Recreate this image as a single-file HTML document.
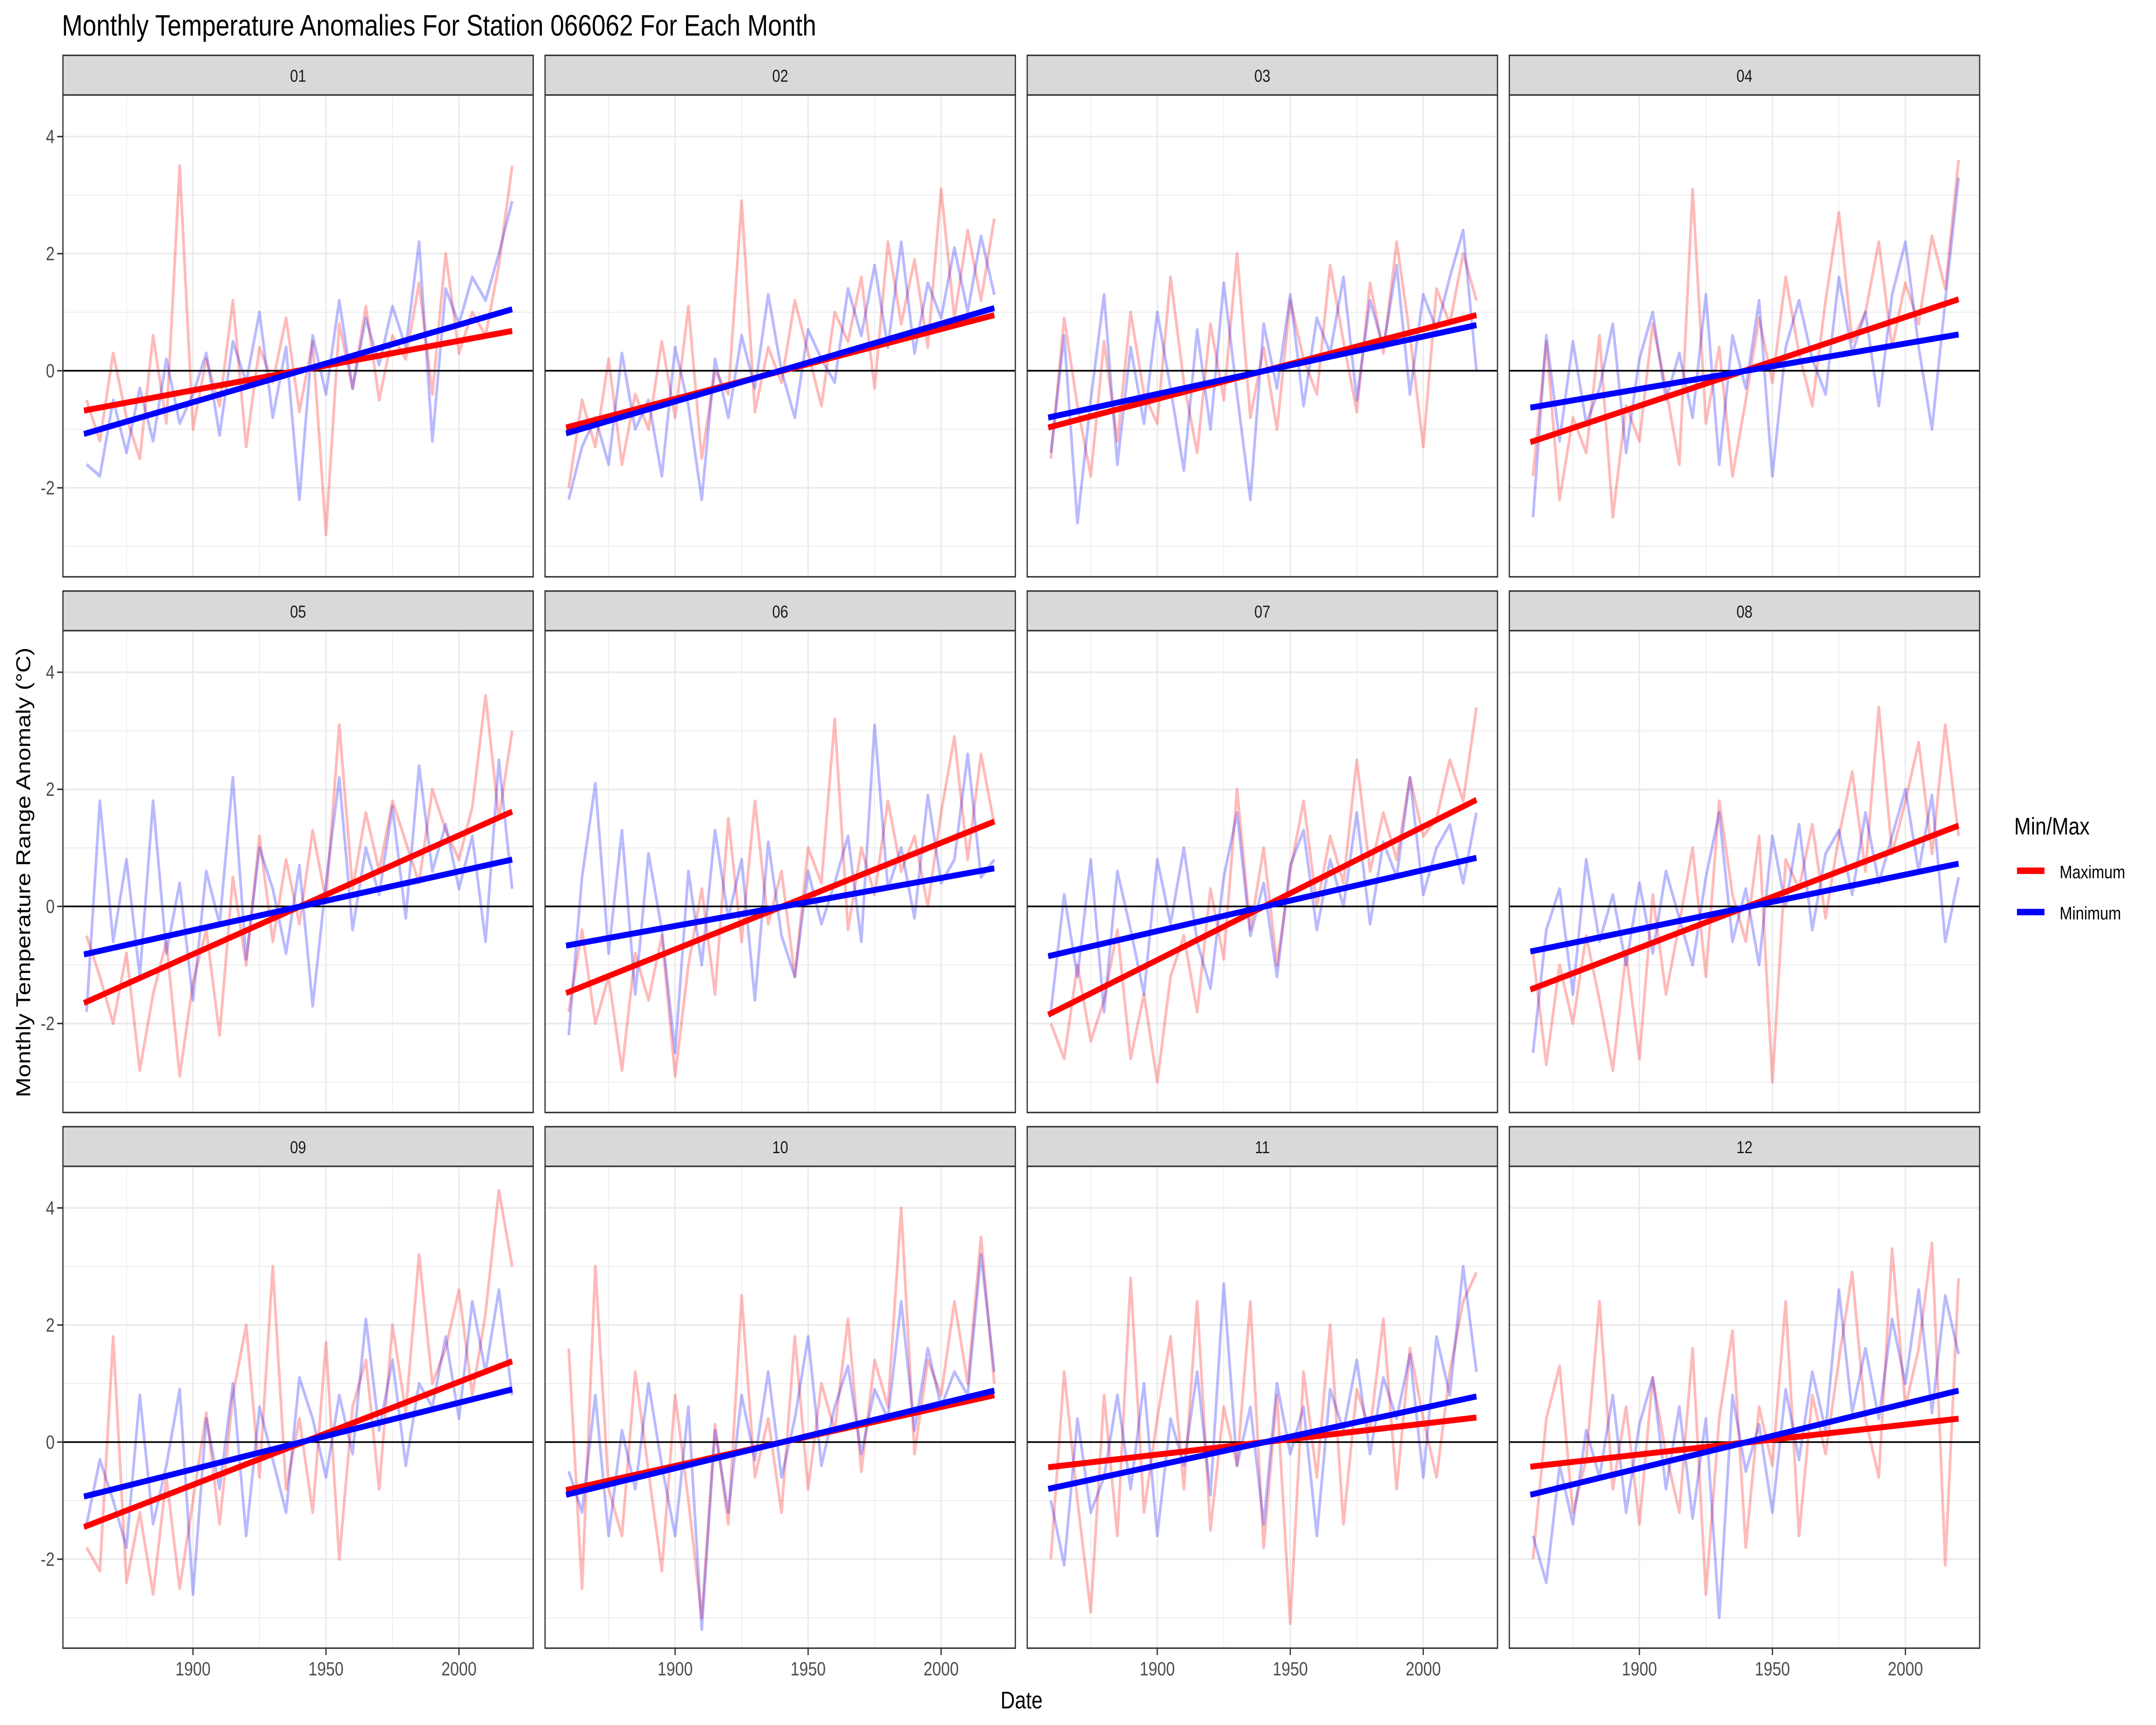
<!DOCTYPE html>
<html><head><meta charset="utf-8"><style>
html,body{margin:0;padding:0;background:#fff;overflow:hidden;width:100vw;height:100vh;}
svg{display:block;font-family:"Liberation Sans",sans-serif;width:100vw;height:100vh;}
</style></head><body>
<svg id="chart" xmlns="http://www.w3.org/2000/svg" viewBox="0 0 1566 1044" preserveAspectRatio="none">
<rect x="0" y="0" width="1566" height="1044" fill="#fff"/>
<text x="45" y="21.5" font-size="18" fill="#000">Monthly Temperature Anomalies For Station 066062 For Each Month</text>
<text transform="translate(22,528) rotate(-90)" text-anchor="middle" font-size="14.5" fill="#000">Monthly Temperature Range Anomaly (°C)</text>
<text x="742" y="1034" text-anchor="middle" font-size="14.5" fill="#000">Date</text>
<g>
<text x="1463" y="505" font-size="14.5" fill="#000">Min/Max</text>
<line x1="1465" y1="527" x2="1485" y2="527" stroke="#ff0000" stroke-width="3.9"/>
<text x="1496" y="531.5" font-size="11" fill="#000">Maximum</text>
<line x1="1465" y1="552" x2="1485" y2="552" stroke="#0000ff" stroke-width="3.9"/>
<text x="1496" y="556.5" font-size="11" fill="#000">Minimum</text>
</g>
<g id="panels"></g>
</svg>
<script>
const months = ["01","02","03","04","05","06","07","08","09","10","11","12"];
const yearStart = 1860;
const yearStep = 5;
const maxSeries = [
[-0.5,-1.2,0.3,-0.8,-1.5,0.6,-0.9,3.5,-1.0,0.2,-0.6,1.2,-1.3,0.4,-0.2,0.9,-0.7,0.5,-2.8,0.8,-0.3,1.1,-0.5,0.6,0.2,1.5,-0.4,2.0,0.3,1.0,0.6,1.8,3.5],
[-2.0,-0.5,-1.3,0.2,-1.6,-0.4,-1.0,0.5,-0.8,1.1,-1.5,0.0,-0.4,2.9,-0.7,0.4,-0.2,1.2,0.3,-0.6,1.0,0.5,1.6,-0.3,2.2,0.8,1.9,0.4,3.1,0.9,2.4,1.2,2.6],
[-1.5,0.9,-0.6,-1.8,0.5,-1.2,1.0,-0.4,-0.9,1.6,-0.2,-1.4,0.8,-0.5,2.0,-0.8,0.4,-1.0,1.2,0.2,-0.4,1.8,0.5,-0.7,1.5,0.3,2.2,0.6,-1.3,1.4,0.8,2.0,1.2],
[-1.8,0.5,-2.2,-0.8,-1.4,0.6,-2.5,-0.6,-1.2,0.8,-0.3,-1.6,3.1,-0.9,0.4,-1.8,-0.5,0.9,-0.2,1.6,0.3,-0.6,1.2,2.7,0.5,1.0,2.2,0.4,1.5,0.8,2.3,1.4,3.6],
[-0.5,-1.2,-2.0,-0.8,-2.8,-1.5,-0.6,-2.9,-1.3,-0.4,-2.2,0.5,-1.0,1.2,-0.6,0.8,-0.3,1.3,0.1,3.1,0.3,1.6,0.6,1.8,1.1,0.4,2.0,1.3,0.8,1.7,3.6,1.5,3.0],
[-1.8,-0.4,-2.0,-1.2,-2.8,-0.8,-1.6,-0.5,-2.9,-1.0,0.3,-1.5,1.5,-0.6,1.8,-0.3,0.6,-1.2,1.0,0.4,3.2,-0.4,1.0,0.2,1.8,0.6,1.2,0.0,1.6,2.9,0.8,2.6,1.4],
[-2.0,-2.6,-1.0,-2.3,-1.6,-0.4,-2.6,-1.5,-3.0,-1.2,-0.5,-1.8,0.3,-0.9,2.0,-0.4,1.0,-1.0,0.6,1.8,0.0,1.2,0.4,2.5,0.6,1.6,0.8,2.2,1.2,1.5,2.5,1.8,3.4],
[-0.8,-2.7,-1.0,-2.0,-0.5,-1.6,-2.8,-0.8,-2.6,0.2,-1.5,-0.3,1.0,-1.2,1.8,0.2,-0.6,1.2,-3.0,0.8,0.3,1.4,-0.2,1.2,2.3,0.6,3.4,0.9,1.8,2.8,0.9,3.1,1.2],
[-1.8,-2.2,1.8,-2.4,-1.2,-2.6,-0.6,-2.5,-1.0,0.5,-1.4,0.8,2.0,-0.6,3.0,-0.8,0.4,-1.2,1.7,-2.0,0.6,1.4,-0.8,2.0,0.5,3.2,1.0,1.6,2.6,0.8,2.2,4.3,3.0],
[1.6,-2.5,3.0,-0.8,-1.6,1.2,-0.5,-2.2,0.8,-1.0,-3.0,0.3,-1.4,2.5,-0.6,0.4,-1.2,1.8,-0.8,1.0,0.2,2.1,-0.5,1.4,0.6,4.0,-0.2,1.4,0.8,2.4,1.0,3.5,1.0],
[-2.0,1.2,-1.0,-2.9,0.8,-1.6,2.8,-1.2,0.4,1.8,-0.8,2.4,-1.5,0.6,-0.4,2.4,-1.8,0.8,-3.1,1.2,-0.6,2.0,-1.4,0.9,0.2,2.1,-0.8,1.6,0.4,-0.6,1.2,2.4,2.9],
[-2.0,0.4,1.3,-1.2,-0.3,2.4,-0.8,0.6,-1.4,1.1,-0.2,-1.2,1.6,-2.6,0.4,1.9,-1.8,0.6,-0.4,2.4,-1.6,0.8,-0.2,1.4,2.9,0.4,-0.6,3.3,0.6,1.6,3.4,-2.1,2.8]
];
const minSeries = [
[-1.6,-1.8,-0.5,-1.4,-0.3,-1.2,0.2,-0.9,-0.4,0.3,-1.1,0.5,-0.2,1.0,-0.8,0.4,-2.2,0.6,-0.4,1.2,-0.3,0.9,0.1,1.1,0.4,2.2,-1.2,1.4,0.8,1.6,1.2,2.0,2.9],
[-2.2,-1.3,-0.8,-1.6,0.3,-1.0,-0.5,-1.8,0.4,-0.6,-2.2,0.2,-0.8,0.6,-0.3,1.3,0.0,-0.8,0.7,0.2,-0.2,1.4,0.6,1.8,0.4,2.2,0.3,1.5,0.9,2.1,1.0,2.3,1.3],
[-1.4,0.6,-2.6,-0.5,1.3,-1.6,0.4,-0.9,1.0,-0.3,-1.7,0.7,-1.0,1.5,-0.4,-2.2,0.8,-0.3,1.3,-0.6,0.9,0.3,1.6,-0.5,1.2,0.4,1.8,-0.4,1.3,0.7,1.6,2.4,0.0],
[-2.5,0.6,-1.2,0.5,-0.9,-0.3,0.8,-1.4,0.2,1.0,-0.5,0.3,-0.8,1.3,-1.6,0.6,-0.3,1.2,-1.8,0.4,1.2,0.2,-0.4,1.6,0.3,1.0,-0.6,1.3,2.2,0.4,-1.0,1.2,3.3],
[-1.8,1.8,-0.6,0.8,-1.2,1.8,-0.8,0.4,-1.6,0.6,-0.3,2.2,-0.9,1.0,0.3,-0.8,0.7,-1.7,0.4,2.2,-0.4,1.0,0.2,1.7,-0.2,2.4,0.6,1.4,0.3,1.2,-0.6,2.5,0.3],
[-2.2,0.5,2.1,-0.8,1.3,-1.5,0.9,-0.4,-2.5,0.6,-1.0,1.3,-0.2,0.8,-1.6,1.1,-0.5,-1.2,0.6,-0.3,0.4,1.2,-0.6,3.1,0.3,1.0,-0.2,1.9,0.4,0.8,2.6,0.5,0.8],
[-1.8,0.2,-1.2,0.8,-1.8,0.6,-0.4,-1.5,0.8,-0.3,1.0,-0.6,-1.4,0.5,1.6,-0.5,0.4,-1.2,0.7,1.3,-0.4,0.8,0.0,1.6,-0.3,1.1,0.5,2.2,0.2,1.0,1.4,0.4,1.6],
[-2.5,-0.4,0.3,-1.5,0.8,-0.6,0.2,-1.0,0.4,-0.8,0.6,-0.2,-1.0,0.5,1.6,-0.6,0.3,-1.0,1.2,0.0,1.4,-0.4,0.9,1.3,0.2,1.6,0.4,1.2,2.0,0.6,1.9,-0.6,0.5],
[-1.4,-0.3,-1.0,-1.8,0.8,-1.4,-0.4,0.9,-2.6,0.4,-0.8,1.0,-1.6,0.6,-0.3,-1.2,1.1,0.4,-0.6,0.8,-0.2,2.1,0.2,1.4,-0.4,1.0,0.6,1.8,0.4,2.4,1.2,2.6,0.8],
[-0.5,-1.2,0.8,-1.6,0.2,-0.8,1.0,-0.4,-1.6,0.6,-3.2,0.2,-1.2,0.8,-0.3,1.2,-0.6,0.4,1.8,-0.4,0.6,1.3,-0.2,0.9,0.4,2.4,0.2,1.6,0.6,1.2,0.8,3.2,1.2],
[-1.0,-2.1,0.4,-1.2,-0.6,0.8,-0.8,1.0,-1.6,0.4,-0.4,1.2,-0.9,2.7,-0.4,0.6,-1.4,1.0,-0.2,0.6,-1.6,0.9,0.2,1.4,-0.2,1.1,0.4,1.5,-0.6,1.8,0.8,3.0,1.2],
[-1.6,-2.4,-0.4,-1.4,0.2,-0.6,0.8,-1.2,0.3,1.1,-0.8,0.6,-1.3,0.4,-3.0,0.8,-0.5,0.3,-1.2,0.9,-0.3,1.2,0.2,2.6,0.5,1.6,0.4,2.1,1.0,2.6,0.5,2.5,1.5]
];
const trendYears = [1859, 2020];
const maxTrendStart = [-0.68,-0.97,-0.97,-1.22,-1.65,-1.48,-1.85,-1.42,-1.45,-0.82,-0.43,-0.42];
const maxTrendEnd   = [0.68,0.95,0.95,1.22,1.62,1.45,1.82,1.38,1.38,0.80,0.42,0.40];
const minTrendStart = [-1.08,-1.07,-0.80,-0.63,-0.82,-0.67,-0.85,-0.77,-0.93,-0.90,-0.80,-0.90];
const minTrendEnd   = [1.05,1.07,0.78,0.62,0.80,0.65,0.83,0.73,0.90,0.88,0.78,0.88];
const yTicks = [-2,0,2,4];
const yMinor = [-3,-1,1,3];
const xTicks = [1900,1950,2000];
const xMinor = [1875,1925,1975];

const NS = "http://www.w3.org/2000/svg";
const root = document.getElementById("panels");
const PW = 341.6, PH = 291.6, GAP = 8.6, STRIP = 24, LEFT = 45.7, TOP = 33.5;
const YR0 = 1851.1, YR1 = YR0 + PW / 1.932;
const V0 = -3.52, V1 = 4.71;
function mk(tag, attrs, parent) {
  const e = document.createElementNS(NS, tag);
  for (const k in attrs) e.setAttribute(k, attrs[k]);
  parent.appendChild(e);
  return e;
}
months.forEach((m, i) => {
  const col = i % 4, row = Math.floor(i / 4);
  const px = LEFT + col * (PW + GAP);
  const sy = TOP + row * (STRIP + PH + GAP);
  const py = sy + STRIP;
  const xs = yr => px + (yr - YR0) / (YR1 - YR0) * PW;
  const ys = v => py + PH - (v - V0) / (V1 - V0) * PH;
  const g = mk("g", {}, root);
  
  
  const strip = mk("rect", {x: px, y: sy, width: PW, height: STRIP, fill: "#d9d9d9", stroke: "#333", "stroke-width": 0.9}, g);
  
  
  const st = mk("text", {x: px + PW / 2, y: sy + 16, "text-anchor": "middle", "font-size": 10.5, fill: "#1a1a1a"}, g);
  st.textContent = m;
  
  
  mk("rect", {x: px, y: py, width: PW, height: PH, fill: "#fff"}, g);
  yMinor.forEach(v => mk("line", {x1: px, x2: px + PW, y1: ys(v), y2: ys(v), stroke: "#ebebeb", "stroke-width": 0.55}, g));
  xMinor.forEach(v => mk("line", {x1: xs(v), x2: xs(v), y1: py, y2: py + PH, stroke: "#ebebeb", "stroke-width": 0.55}, g));
  yTicks.forEach(v => mk("line", {x1: px, x2: px + PW, y1: ys(v), y2: ys(v), stroke: "#ebebeb", "stroke-width": 1.1}, g));
  xTicks.forEach(v => mk("line", {x1: xs(v), x2: xs(v), y1: py, y2: py + PH, stroke: "#ebebeb", "stroke-width": 1.1}, g));
  const line = (vals, color, name) => {
    const pts = vals.map((v, k) => xs(yearStart + k * yearStep).toFixed(2) + "," + ys(v).toFixed(2)).join(" ");
    const p = mk("polyline", {points: pts, fill: "none", stroke: color, "stroke-opacity": 0.27, "stroke-width": 2, "stroke-linejoin": "round"}, g);
    
    
  };
  line(maxSeries[i], "#ff0000", 'maximum-series-' + m);
  line(minSeries[i], "#0000ff", 'minimum-series-' + m);
  const zl = mk("line", {x1: px, x2: px + PW, y1: ys(0), y2: ys(0), stroke: "#000", "stroke-width": 1}, g);
  
  
  const tr = (a, b, color, name) => {
    const l = mk("line", {x1: xs(trendYears[0]), y1: ys(a), x2: xs(trendYears[1]), y2: ys(b), stroke: color, "stroke-width": 3.6}, g);
    
    
  };
  tr(maxTrendStart[i], maxTrendEnd[i], "#ff0000", 'maximum-trend-' + m);
  tr(minTrendStart[i], minTrendEnd[i], "#0000ff", 'minimum-trend-' + m);
  mk("rect", {x: px, y: py, width: PW, height: PH, fill: "none", stroke: "#333", "stroke-width": 0.9}, g);
  if (col === 0) {
    yTicks.forEach(v => {
      mk("line", {x1: px - 4.2, x2: px, y1: ys(v), y2: ys(v), stroke: "#333", "stroke-width": 0.9}, g);
      const t = mk("text", {x: px - 6, y: ys(v) + 4, "text-anchor": "end", "font-size": 11.5, fill: "#4d4d4d"}, g);
      t.textContent = v;
      
      
    });
  }
  if (row === 2) {
    xTicks.forEach(v => {
      mk("line", {x1: xs(v), x2: xs(v), y1: py + PH, y2: py + PH + 4.2, stroke: "#333", "stroke-width": 0.9}, g);
      const t = mk("text", {x: xs(v), y: py + PH + 16.5, "text-anchor": "middle", "font-size": 11.5, fill: "#4d4d4d"}, g);
      t.textContent = v;
      
      
    });
  }
});
</script>
</body></html>
